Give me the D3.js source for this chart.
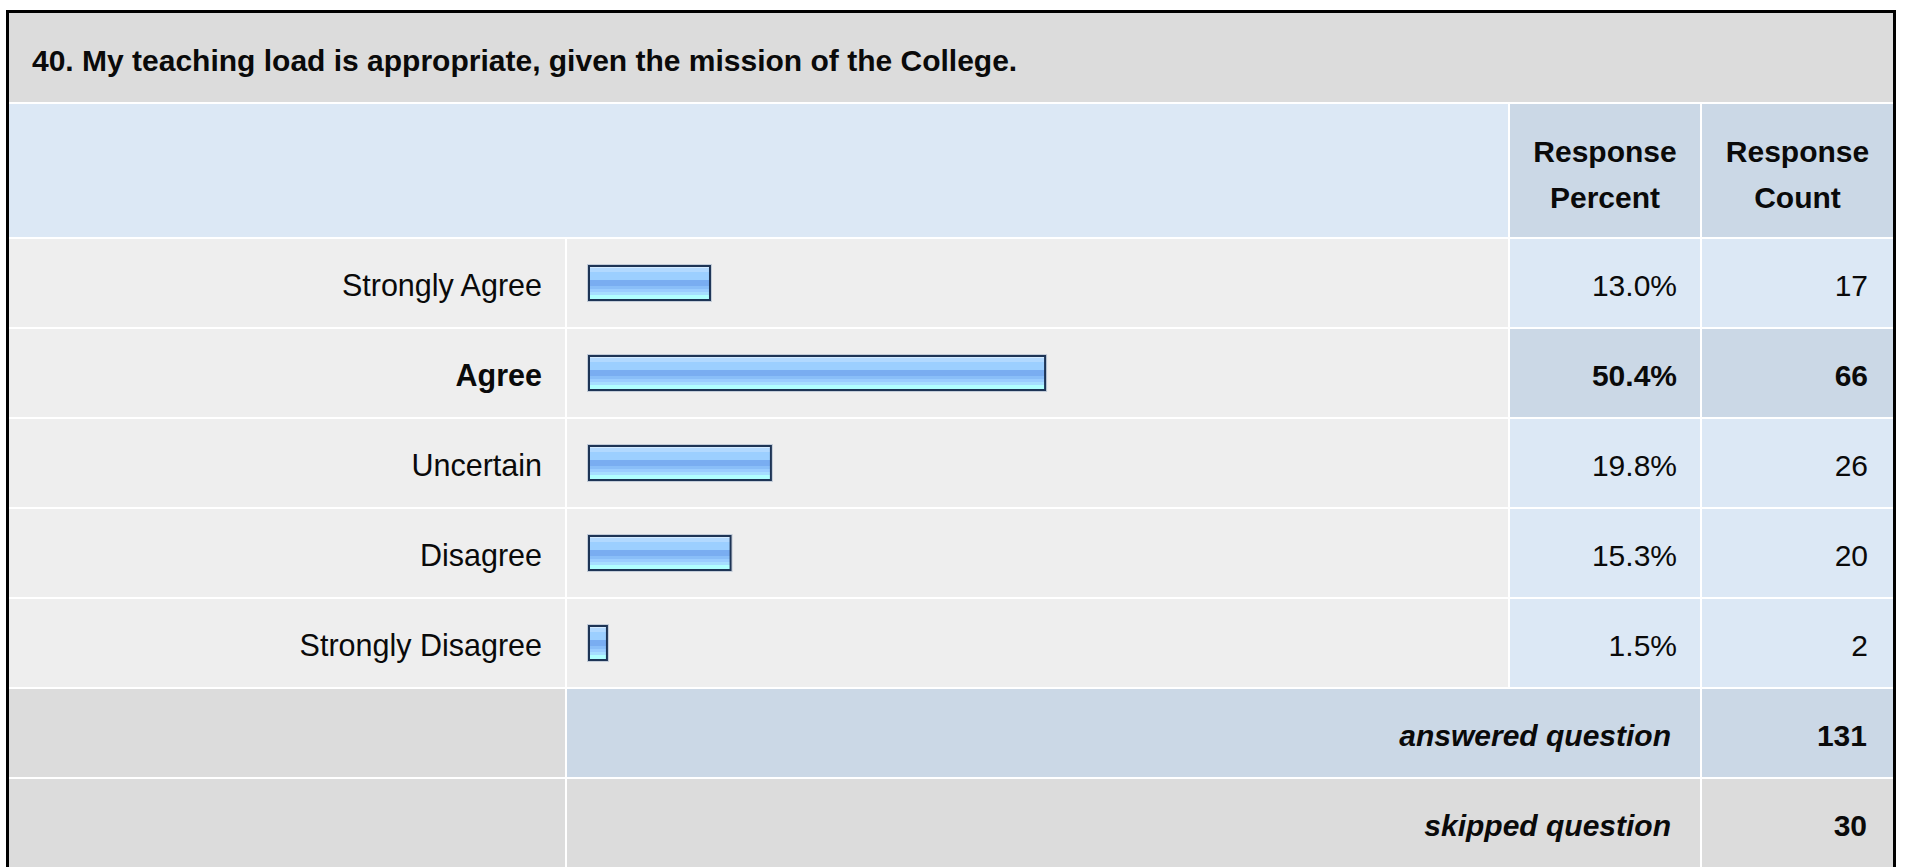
<!DOCTYPE html>
<html>
<head>
<meta charset="utf-8">
<script src="https://cdn.jsdelivr.net/npm/d3@7"></script>
<style>
  html, body { margin: 0; padding: 0; background: #ffffff; }
  svg { display: block; }
  text { font-family: "Liberation Sans", Arial, Helvetica, sans-serif; fill: #0a0a0a; }
</style>
</head>
<body>
<script>
// ---- data ----
const title = "40. My teaching load is appropriate, given the mission of the College.";
const categories = ["Strongly Agree", "Agree", "Uncertain", "Disagree", "Strongly Disagree"];
const percents = [13.0, 50.4, 19.8, 15.3, 1.5];
const counts = [17, 66, 26, 20, 2];
const highlighted = ["Agree"];
const headerPercent = ["Response", "Percent"];
const headerCount = ["Response", "Count"];
const summaryLabels = ["answered question", "skipped question"];
const summaryValues = [131, 30];

// ---- layout ----
const W = 1907, H = 867;
const svg = d3.select("body").append("svg").attr("width", W).attr("height", H);

const colLabel = [9, 565], colBar = [567, 1508], colPct = [1510, 1700], colCnt = [1702, 1893];
const titleRow = [13, 102], headerRow = [104, 237];

const rowKeys = categories.concat(["__answered", "__skipped"]);
const y = d3.scaleBand().domain(rowKeys).range([239, 239 + 7 * 90 - 2]).paddingInner(2 / 90).paddingOuter(0);

const x = d3.scaleLinear().domain([0, 100]).range([4.5, 900.5]);

const C = {
  title: "#dcdcdc", header: "#dce8f5", headerDark: "#cbd8e6",
  rowBg: "#eeeeee", cellLight: "#dce8f5", cellDark: "#cbd8e6", gray: "#dcdcdc"
};

// gradient for bars
const defs = svg.append("defs");
const grad = defs.append("linearGradient").attr("id", "barGrad")
  .attr("x1", 0).attr("y1", 0).attr("x2", 0).attr("y2", 1);
const stops = [
  [0.00, "#d2eaff"], [0.07, "#d2eaff"], [0.07, "#b2d9ff"], [0.18, "#b2d9ff"],
  [0.18, "#9ccfff"], [0.41, "#9ccfff"], [0.41, "#79adf1"], [0.59, "#79adf1"],
  [0.59, "#89bef8"], [0.67, "#89bef8"], [0.67, "#9acdff"], [0.77, "#9acdff"],
  [0.77, "#a6deff"], [0.85, "#a6deff"], [0.85, "#b0ffff"], [1.00, "#b0ffff"]
];
grad.selectAll("stop").data(stops).enter().append("stop")
  .attr("offset", d => d[0]).attr("stop-color", d => d[1]);

// title row
svg.append("rect").attr("x", colLabel[0]).attr("y", titleRow[0])
  .attr("width", colCnt[1] - colLabel[0]).attr("height", titleRow[1] - titleRow[0]).attr("fill", C.title);
svg.append("text").attr("x", 32).attr("y", 71)
  .attr("font-size", 30).attr("font-weight", "bold").text(title);

// header row
svg.append("rect").attr("x", colLabel[0]).attr("y", headerRow[0])
  .attr("width", colBar[1] - colLabel[0]).attr("height", headerRow[1] - headerRow[0]).attr("fill", C.header);
[[colPct, headerPercent], [colCnt, headerCount]].forEach(([col, lines]) => {
  svg.append("rect").attr("x", col[0]).attr("y", headerRow[0])
    .attr("width", col[1] - col[0]).attr("height", headerRow[1] - headerRow[0]).attr("fill", C.headerDark);
  const cx = (col[0] + col[1]) / 2;
  const t = svg.append("text").attr("text-anchor", "middle").attr("font-size", 30).attr("font-weight", "bold");
  lines.forEach((l, i) => t.append("tspan").attr("x", cx).attr("y", 162 + i * 46).text(l));
});

// data rows
const rows = categories.map((c, i) => ({ cat: c, pct: percents[i], cnt: counts[i], hi: highlighted.includes(c) }));
const g = svg.selectAll("g.row").data(rows).enter().append("g").attr("class", "row");
const bw = y.bandwidth();

g.append("rect").attr("x", colLabel[0]).attr("y", d => y(d.cat))
  .attr("width", colLabel[1] - colLabel[0]).attr("height", bw).attr("fill", C.rowBg);
g.append("rect").attr("x", colBar[0]).attr("y", d => y(d.cat))
  .attr("width", colBar[1] - colBar[0]).attr("height", bw).attr("fill", C.rowBg);
g.append("rect").attr("x", colPct[0]).attr("y", d => y(d.cat))
  .attr("width", colPct[1] - colPct[0]).attr("height", bw).attr("fill", d => d.hi ? C.cellDark : C.cellLight);
g.append("rect").attr("x", colCnt[0]).attr("y", d => y(d.cat))
  .attr("width", colCnt[1] - colCnt[0]).attr("height", bw).attr("fill", d => d.hi ? C.cellDark : C.cellLight);

const baseY = d => y(d.cat) + bw / 2 + 13;
g.append("text").attr("x", 542).attr("y", baseY).attr("text-anchor", "end").attr("font-size", 30.5)
  .attr("font-weight", d => d.hi ? "bold" : "normal").text(d => d.cat);
g.append("text").attr("x", 1677).attr("y", baseY).attr("text-anchor", "end").attr("font-size", 30)
  .attr("font-weight", d => d.hi ? "bold" : "normal").text(d => d.pct.toFixed(1) + "%");
g.append("text").attr("x", 1868).attr("y", baseY).attr("text-anchor", "end").attr("font-size", 30)
  .attr("font-weight", d => d.hi ? "bold" : "normal").text(d => d.cnt);

// bars
const barX = 589, barH = 34;
g.append("rect").attr("x", barX - 1.5).attr("y", d => y(d.cat) + bw / 2 - barH / 2 - 1.5)
  .attr("width", d => x(d.pct) + 3).attr("height", barH + 3)
  .attr("fill", "none").attr("stroke", "#c3ccd8").attr("stroke-width", 1);
g.append("rect").attr("x", barX).attr("y", d => y(d.cat) + bw / 2 - barH / 2)
  .attr("width", d => x(d.pct)).attr("height", barH)
  .attr("fill", "url(#barGrad)").attr("stroke", "#1d3455").attr("stroke-width", 2);

// summary rows
const sumKeys = ["__answered", "__skipped"];
sumKeys.forEach((k, i) => {
  const top = y(k);
  const mid = i === 0 ? C.cellDark : C.gray;
  svg.append("rect").attr("x", colLabel[0]).attr("y", top).attr("width", colLabel[1] - colLabel[0]).attr("height", bw).attr("fill", C.gray);
  svg.append("rect").attr("x", colBar[0]).attr("y", top).attr("width", colPct[1] - colBar[0]).attr("height", bw).attr("fill", mid);
  svg.append("rect").attr("x", colCnt[0]).attr("y", top).attr("width", colCnt[1] - colCnt[0]).attr("height", bw).attr("fill", mid);
  svg.append("text").attr("x", 1671).attr("y", top + bw / 2 + 13).attr("text-anchor", "end")
    .attr("font-size", 30).attr("font-weight", "bold").attr("font-style", "italic").text(summaryLabels[i]);
  svg.append("text").attr("x", 1867).attr("y", top + bw / 2 + 13).attr("text-anchor", "end")
    .attr("font-size", 30).attr("font-weight", "bold").text(summaryValues[i]);
});

// outer border
svg.append("rect").attr("x", 7.5).attr("y", 11.5).attr("width", 1887).attr("height", 900)
  .attr("fill", "none").attr("stroke", "#000").attr("stroke-width", 3);
</script>
</body>
</html>
